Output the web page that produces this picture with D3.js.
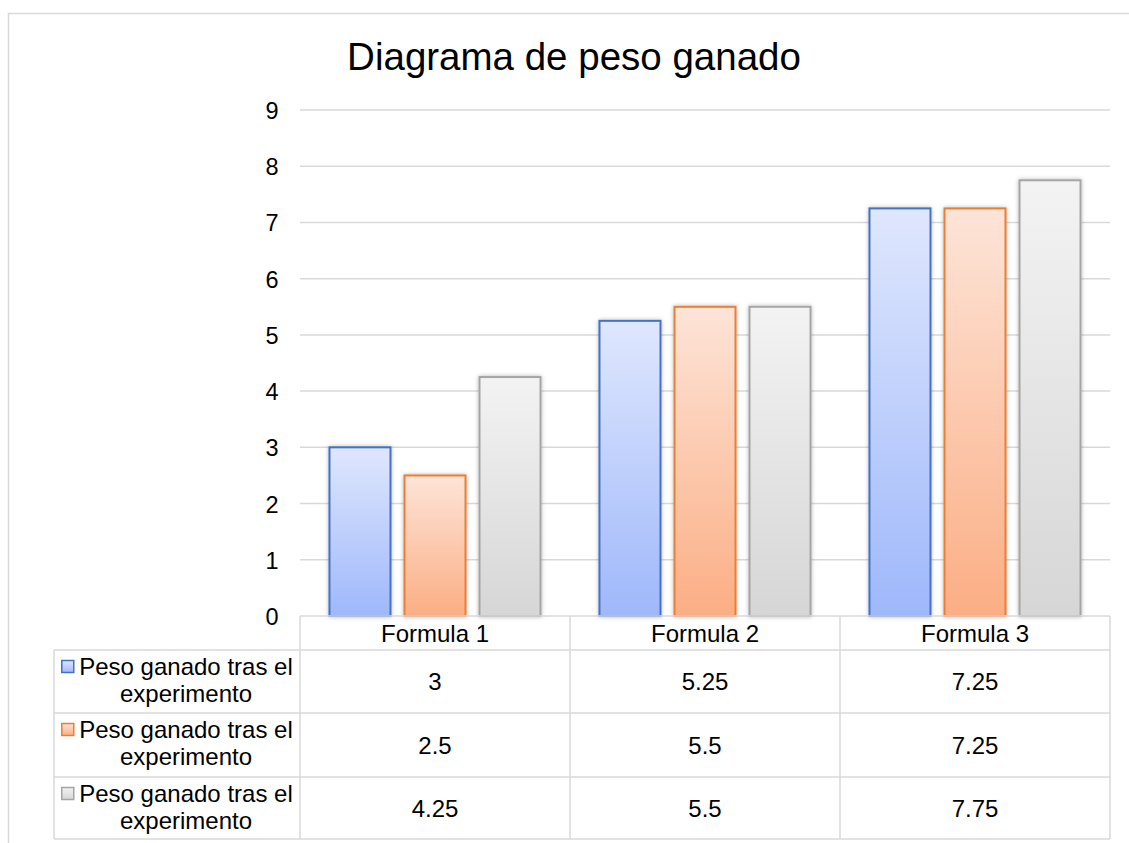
<!DOCTYPE html>
<html>
<head>
<meta charset="utf-8">
<script src="https://cdn.jsdelivr.net/npm/d3@7/dist/d3.min.js"></script>
<style>
  html, body { margin: 0; padding: 0; background: #fff; }
  svg { display: block; }
  text { font-family: Arial, "Liberation Sans", sans-serif; fill: #000; }
</style>
</head>
<body>
<svg id="chart" width="1129" height="843"></svg>
<script>
// Chart data
const categories = ["Formula 1", "Formula 2", "Formula 3"];
const seriesNames = ["Peso ganado tras el experimento", "Peso ganado tras el experimento", "Peso ganado tras el experimento"];
const seriesA = [3, 5.25, 7.25];
const seriesB = [2.5, 5.5, 7.25];
const seriesC = [4.25, 5.5, 7.75];
const yTicks = [0, 1, 2, 3, 4, 5, 6, 7, 8, 9];
const titleText = "Diagrama de peso ganado";

const seriesValues = [seriesA, seriesB, seriesC];
const strokeColors = ["#4472c4", "#ed7d31", "#a5a5a5"];
const gradStops = [["#dfe7fd", "#9fb8fb"], ["#fde4d8", "#fbae84"], ["#f3f3f3", "#d6d6d6"]];

const svg = d3.select("#chart");
const gridColor = "#d9d9d9";
const fontPx = "24px";

// Layout
const plotLeft = 300, plotRight = 1110, plotTop = 110, plotBottom = 616;
const legendLeft = 54;
const rowLines = [616, 650, 713, 777, 839];

const defs = svg.append("defs");
gradStops.forEach((g, i) => {
  const lg = defs.append("linearGradient")
    .attr("id", "grad" + i).attr("x1", 0).attr("y1", 0).attr("x2", 0).attr("y2", 1);
  lg.append("stop").attr("offset", "0%").attr("stop-color", g[0]);
  lg.append("stop").attr("offset", "100%").attr("stop-color", g[1]);
});
const shadow = defs.append("filter").attr("id", "barShadow")
  .attr("x", "-20%").attr("y", "-5%").attr("width", "140%").attr("height", "110%");
shadow.append("feDropShadow").attr("dx", 0).attr("dy", 0).attr("stdDeviation", 2)
  .attr("flood-color", "#000").attr("flood-opacity", 0.28);

// Outer chart frame
svg.append("rect")
  .attr("x", 8.5).attr("y", 13.5).attr("width", 1200).attr("height", 900)
  .attr("fill", "#fff").attr("stroke", gridColor).attr("stroke-width", 1.5);

// Title
svg.append("text")
  .attr("x", 574).attr("y", 70)
  .attr("text-anchor", "middle").style("font-size", "38.5px")
  .text(titleText);

// Scales
const y = d3.scaleLinear().domain([0, 9]).range([plotBottom, plotTop]);
const x0 = d3.scaleBand().domain(categories).range([plotLeft, plotRight]).padding(0);
const x1 = d3.scaleBand().domain(d3.range(seriesValues.length))
  .range([0, x0.bandwidth()]).paddingInner(0.1867).paddingOuter(0.393);

// Gridlines
svg.append("g").selectAll("line").data(yTicks.filter(d => d > 0)).join("line")
  .attr("x1", plotLeft).attr("x2", plotRight)
  .attr("y1", d => y(d)).attr("y2", d => y(d))
  .attr("stroke", gridColor).attr("stroke-width", 1.5);

// Y axis labels
const yAxis = d3.axisLeft(y).tickValues(yTicks).tickSize(0).tickPadding(0).tickFormat(d3.format("d"));
const yg = svg.append("g").attr("transform", `translate(${plotLeft - 21.5},0)`).call(yAxis);
yg.select(".domain").remove();
yg.selectAll("text").style("font-size", "23.5px").attr("fill", "#000")
  .attr("font-family", "Arial, 'Liberation Sans', sans-serif").attr("dy", "0.36em");

// Bars
const barData = [];
categories.forEach((c, ci) => {
  seriesValues.forEach((s, si) => barData.push({ cat: c, si, v: s[ci] }));
});
svg.append("g").selectAll("rect").data(barData).join("rect")
  .attr("x", d => x0(d.cat) + x1(d.si))
  .attr("width", x1.bandwidth())
  .attr("y", d => y(d.v))
  .attr("height", d => y(0) - y(d.v))
  .attr("fill", d => `url(#grad${d.si})`)
  .attr("stroke", d => strokeColors[d.si])
  .attr("stroke-width", 2)
  .attr("filter", "url(#barShadow)");

// Data table
const tbl = svg.append("g").attr("stroke", gridColor).attr("stroke-width", 1.5).attr("fill", "none");
// header row (categories)
tbl.append("line").attr("x1", plotLeft).attr("x2", plotRight).attr("y1", rowLines[0]).attr("y2", rowLines[0]);
rowLines.slice(1).forEach(ry => {
  tbl.append("line").attr("x1", legendLeft).attr("x2", plotRight).attr("y1", ry).attr("y2", ry);
});
tbl.append("line").attr("x1", legendLeft).attr("x2", legendLeft).attr("y1", rowLines[1]).attr("y2", rowLines[4]);
[plotLeft, ...categories.map(c => x0(c) + x0.bandwidth())].forEach(cx => {
  tbl.append("line").attr("x1", cx).attr("x2", cx).attr("y1", rowLines[0]).attr("y2", rowLines[4]);
});

// category headers
svg.append("g").selectAll("text").data(categories).join("text")
  .attr("x", d => x0(d) + x0.bandwidth() / 2)
  .attr("y", (rowLines[0] + rowLines[1]) / 2 + 8.5)
  .attr("text-anchor", "middle").style("font-size", fontPx)
  .text(d => d);

// value cells
seriesValues.forEach((s, si) => {
  const mid = (rowLines[si + 1] + rowLines[si + 2]) / 2;
  svg.append("g").selectAll("text").data(s).join("text")
    .attr("x", (d, i) => x0(categories[i]) + x0.bandwidth() / 2)
    .attr("y", mid + 8.5)
    .attr("text-anchor", "middle").style("font-size", fontPx)
    .text(d => d);
});

// legend cells
const legendTextX = 186;
seriesNames.forEach((name, si) => {
  const top = rowLines[si + 1];
  const words = name.split(" ");
  const line1 = words.slice(0, 4).join(" ");
  const line2 = words.slice(4).join(" ");
  const t1 = svg.append("text").attr("x", legendTextX).attr("y", top + 25)
    .attr("text-anchor", "middle").style("font-size", fontPx).text(line1);
  svg.append("text").attr("x", legendTextX).attr("y", top + 52)
    .attr("text-anchor", "middle").style("font-size", fontPx).text(line2);
  const w = t1.node().getComputedTextLength();
  svg.append("rect")
    .attr("x", legendTextX - w / 2 - 17.5).attr("y", top + 10.5)
    .attr("width", 12).attr("height", 12)
    .attr("fill", `url(#grad${si})`).attr("stroke", strokeColors[si]).attr("stroke-width", 1.5);
});
</script>
</body>
</html>
